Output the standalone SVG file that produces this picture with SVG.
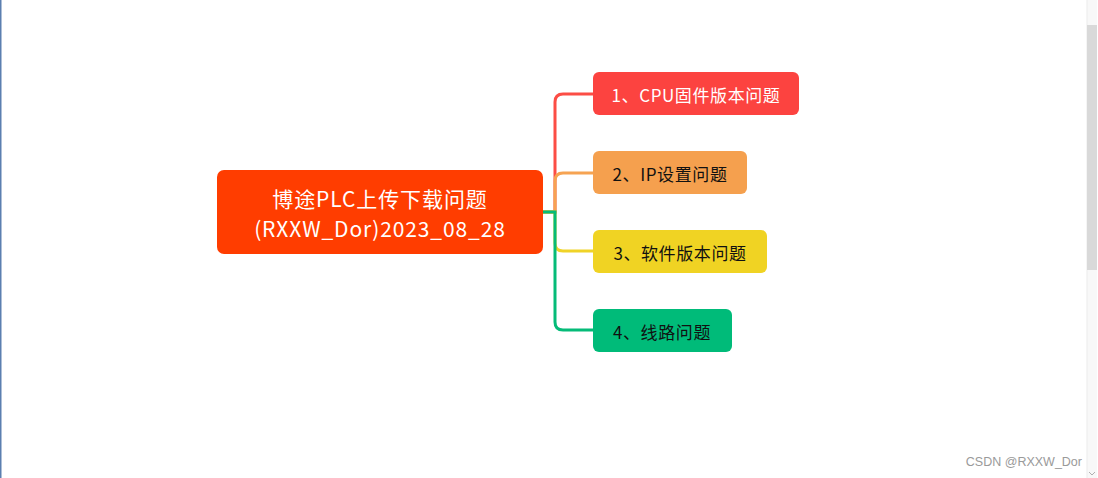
<svg xmlns="http://www.w3.org/2000/svg" width="1098" height="478" viewBox="0 0 1098 478">
<style>
.node text{font-family:"Noto Sans CJK SC","Noto Sans",sans-serif;text-anchor:middle;dominant-baseline:central}
.root text{font-size:21px;fill:#ffffff;letter-spacing:0.9px}
.child text{font-size:17px;letter-spacing:0.6px}
.conn path{fill:none;stroke-width:3;stroke-linecap:round}
</style>
<rect x="0" y="0" width="1098" height="478" fill="#ffffff"/>
<rect x="0" y="0" width="1.5" height="478" fill="#5b7fb0"/>
<g id="connectors" class="conn">
<path d="M543 212 H555 V102 Q555 94 563 94 H594" stroke="#fc4d45"/>
<path d="M543 212 H555 V181 Q555 173 563 173 H594" stroke="#f6a352"/>
<path d="M543 212 H555 V243 Q555 251 563 251 H594" stroke="#f0d327"/>
<path d="M543 212 H555 V322 Q555 330 563 330 H594" stroke="#05bb78"/>
</g>
<g id="root" class="node root">
<rect x="217" y="170" width="326" height="84" rx="7" fill="#ff3d00"/>
<text x="380" y="198">博途PLC上传下载问题</text>
<text x="380" y="228">(RXXW_Dor)2023_08_28</text>
</g>
<g id="n1" class="node child">
<rect x="593" y="72" width="206" height="43" rx="6" fill="#fc4340"/>
<text x="696" y="94" fill="#ffffff">1、CPU固件版本问题</text>
</g>
<g id="n2" class="node child">
<rect x="593" y="151" width="154" height="43" rx="6" fill="#f5a04e"/>
<text x="670" y="173" fill="#111111">2、IP设置问题</text>
</g>
<g id="n3" class="node child">
<rect x="593" y="230" width="174" height="43" rx="6" fill="#f0d323"/>
<text x="680" y="252" fill="#111111">3、软件版本问题</text>
</g>
<g id="n4" class="node child">
<rect x="593" y="309" width="139" height="43" rx="6" fill="#00bb79"/>
<text x="662" y="331" fill="#111111">4、线路问题</text>
</g>
<rect x="1087" y="0" width="10" height="478" fill="#f8f8f8"/>
<rect x="1086.5" y="0" width="1" height="478" fill="#ececec"/>
<rect x="1087" y="25" width="10" height="245" fill="#d9d9d9"/>
<path d="M1089 472 L1092 475 L1095 472" fill="none" stroke="#b0b0b0" stroke-width="1"/>
<text x="1082" y="466" font-family="'Liberation Sans',Arial,sans-serif" font-size="12.5" fill="#9a9a9a" text-anchor="end">CSDN @RXXW_Dor</text>
</svg>
